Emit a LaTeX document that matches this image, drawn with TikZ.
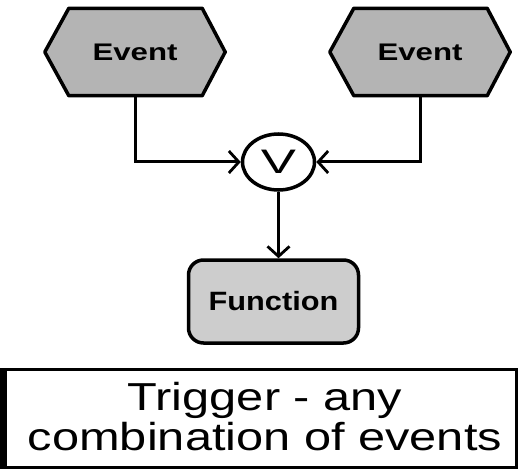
\documentclass[tikz,border=0pt]{standalone}
\usepackage{fontspec}
\setmainfont{Liberation Sans}
\usetikzlibrary{calc,arrows.meta,shapes.geometric}
\definecolor{evgray}{HTML}{B4B4B4}
\definecolor{fngray}{HTML}{CDCDCD}
\tikzset{
  evbox/.style={minimum width=180pt,minimum height=87pt,inner sep=0pt,
    font=\bfseries\fontsize{24}{26}\selectfont},
  hexline/.style={draw=black,line width=3.5pt,fill=evgray,line join=round},
  fnbox/.style={draw=black,line width=3.5pt,fill=fngray,rounded corners=15pt,
    minimum width=170pt,minimum height=83pt,inner sep=0pt,
    font=\bfseries\fontsize{26.5}{28}\selectfont},
  orgate/.style={ellipse,draw=black,line width=3.5pt,fill=white,
    minimum width=72pt,minimum height=56pt,inner sep=0pt,
    font=\fontsize{34}{35}\selectfont},
  flow/.style={draw=black,line width=3pt,
    -{Straight Barb[length=10pt,width=22pt,line width=2.8pt]}},
  notebox/.style={inner sep=0pt,font=\fontsize{39}{40}\selectfont}
}
\newcommand{\hexpath}[1]{%
  ($(#1.west)$) -- ($(#1.north west)+(24,0)$) -- ($(#1.north east)+(-23,0)$)
  -- ($(#1.east)$) -- ($(#1.south east)+(-23,0)$) -- ($(#1.south west)+(24,0)$) -- cycle}
\begin{document}
\begin{tikzpicture}[x=1pt,y=-1pt]
  \useasboundingbox (0,0) rectangle (521,470);

  % event hexagons
  \node[evbox] (ev1) at (135,52) {};
  \node[evbox] (ev2) at (420,52) {};
  \draw[hexline] \hexpath{ev1};
  \draw[hexline] \hexpath{ev2};
  \node[evbox] (ev1t) at (135,52) {\scalebox{1.3}[1]{Event}};
  \node[evbox] (ev2t) at (420,52) {\scalebox{1.3}[1]{Event}};

  % OR connector
  \node[orgate] (or) at (278.5,162) {\scalebox{1.55}[1]{V}};

  % function box
  \node[fnbox] (fn) at (273.5,301.5) {\scalebox{1.16}[1]{Function}};

  % control flow
  \draw[flow] (ev1.south) |- (or.west);
  \draw[flow] (ev2.south) |- (or.east);
  \draw[flow] (or.south) -- (or.south |- fn.north);

  % caption box
  \draw[line width=3.5pt] (4,369.5) rectangle (516.5,467.5);
  \fill[black] (0,368) rectangle (7,469);
  \node[notebox] (note) at (265,422)
    {\scalebox{1.25}[1]{\begin{tabular}{@{}c@{}}Trigger - any\\combination of events\end{tabular}}};
\end{tikzpicture}
\end{document}
